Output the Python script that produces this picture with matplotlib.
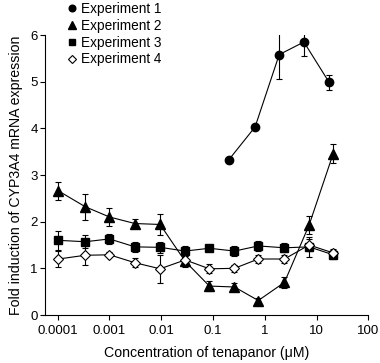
import matplotlib
matplotlib.use("Agg")
import matplotlib.pyplot as plt
import numpy as np
from matplotlib.lines import Line2D

plt.rcParams['font.family'] = ['Liberation Sans', 'DejaVu Sans']

x1 = [0.20, 0.65, 1.9, 5.7, 17.4]
y1 = [3.32, 4.03, 5.58, 5.85, 4.99]
e1 = [0.07, 0.07, 0.52, 0.31, 0.16]

x_all = [1.03e-4, 3.4e-4, 1.0e-3, 3.1e-3, 9.5e-3, 0.029, 0.085, 0.26, 0.75, 2.4, 7.2, 21]

y2 = [2.66, 2.32, 2.10, 1.96, 1.94, 1.15, 0.62, 0.60, 0.31, 0.70, 1.93, 3.46]
e2 = [0.19, 0.28, 0.20, 0.09, 0.23, 0.12, 0.10, 0.08, 0.05, 0.12, 0.20, 0.20]

y3 = [1.60, 1.57, 1.63, 1.46, 1.45, 1.37, 1.43, 1.37, 1.48, 1.44, 1.46, 1.29]
e3 = [0.20, 0.14, 0.10, 0.11, 0.12, 0.10, 0.06, 0.11, 0.10, 0.10, 0.22, 0.10]

y4 = [1.20, 1.28, 1.29, 1.12, 0.99, 1.18, 0.99, 1.00, 1.20, 1.20, 1.50, 1.33]
e4 = [0.18, 0.21, 0.05, 0.10, 0.30, 0.10, 0.10, 0.07, 0.08, 0.08, 0.12, 0.08]

labels = ["Experiment 1", "Experiment 2", "Experiment 3", "Experiment 4"]
xticks = [0.0001, 0.001, 0.01, 0.1, 1, 10, 100]
xticklabels = ["0.0001", "0.001", "0.01", "0.1", "1", "10", "100"]
yticks = [0, 1, 2, 3, 4, 5, 6]

fig = plt.figure(figsize=(3.8, 3.63), dpi=100)
ax = fig.add_axes([45.3/380, 1-315/363, (368.3-45.3)/380, (315-35)/363])

common = dict(color='black', lw=0.8, elinewidth=0.8, capsize=2.5, capthick=0.8, mec='black')
ax.errorbar(x1, y1, yerr=e1, fmt='-o', ms=6, mfc='black', **common)
ax.errorbar(x_all, y2, yerr=e2, fmt='-^', ms=6.5, mfc='black', **common)
ax.errorbar(x_all, y3, yerr=e3, fmt='-s', ms=5.2, mfc='black', **common)
ax.errorbar(x_all, y4, yerr=e4, fmt='-D', ms=4.8, mfc='white', mew=0.8, **common)

ax.set_xscale('log')
ax.set_xlim(10**-4.24, 100)
ax.set_ylim(0, 6)
ax.set_xticks(xticks)
ax.set_xticklabels(xticklabels)
ax.xaxis.set_minor_locator(matplotlib.ticker.NullLocator())
ax.set_yticks(yticks)
for s in ['top', 'right']:
    ax.spines[s].set_visible(False)
for s in ['left', 'bottom']:
    ax.spines[s].set_linewidth(0.8)
ax.tick_params(direction='out', length=3.5, width=0.8, labelsize=9.5)
ax.tick_params(axis='x', pad=4)
ax.tick_params(axis='y', pad=2)
ax.set_xlabel("Concentration of tenapanor (\u03bcM)", fontsize=10.2, labelpad=6)
ax.set_ylabel("Fold induction of CYP3A4 mRNA expression", fontsize=10.2, labelpad=5)

handles = [Line2D([], [], ls='none', marker='o', ms=4.8, color='black'),
           Line2D([], [], ls='none', marker='^', ms=5.3, color='black'),
           Line2D([], [], ls='none', marker='s', ms=4.3, color='black'),
           Line2D([], [], ls='none', marker='D', ms=4.2, mfc='white', mec='black', mew=0.8)]
fig.legend(handles, labels, loc='upper left', bbox_to_anchor=(67/380, 1 - 1.5/363), frameon=False,
           fontsize=9.8, handlelength=0.6, handletextpad=0.4, labelspacing=0.2, borderpad=0.05,
           borderaxespad=0)

fig.savefig("out.png", dpi=100)
